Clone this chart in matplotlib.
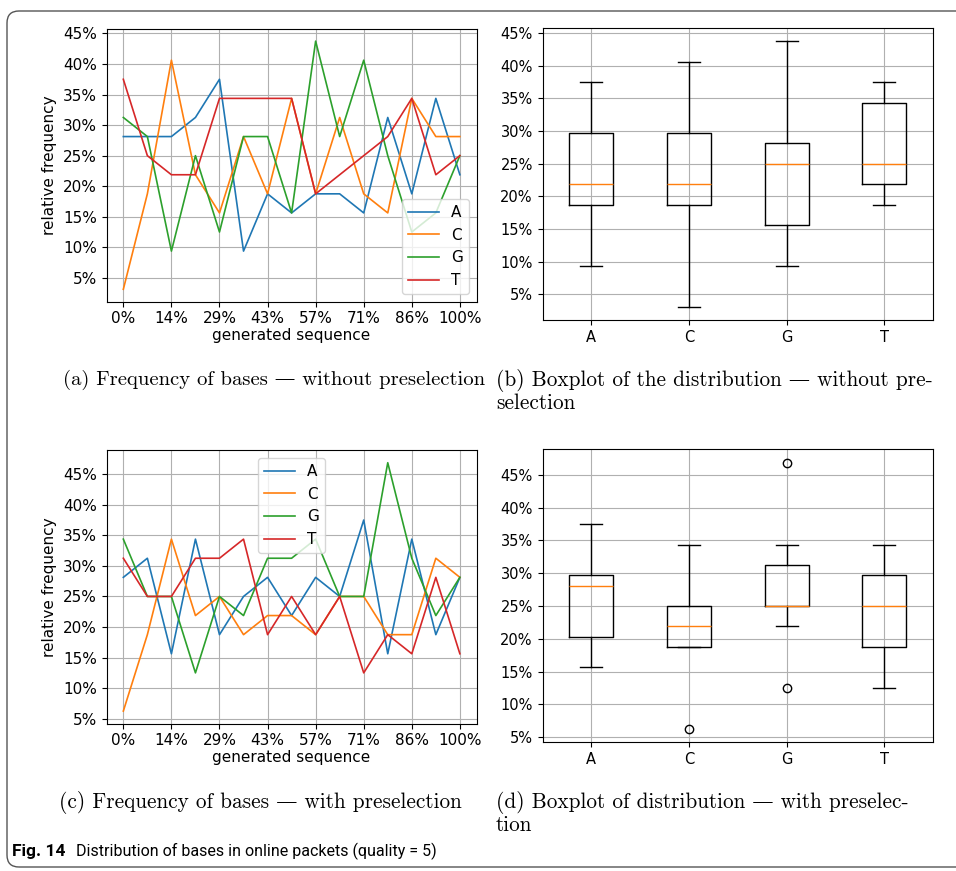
import matplotlib
matplotlib.use("Agg")
import matplotlib.pyplot as plt
from matplotlib.patches import FancyBboxPatch
from matplotlib.transforms import IdentityTransform
from matplotlib.ticker import MultipleLocator, PercentFormatter

# relative frequency of each base (percent) per generated sequence
bases = ["A", "C", "G", "T"]
x_ticklabels = ["0%", "14%", "29%", "43%", "57%", "71%", "86%", "100%"]

# without preselection
A_wo = [28.125, 28.125, 28.125, 31.25, 37.5, 9.375, 18.75, 15.625, 18.75, 18.75, 15.625, 31.25, 18.75, 34.375, 21.875]
C_wo = [3.125, 18.75, 40.625, 21.875, 15.625, 28.125, 18.75, 34.375, 18.75, 31.25, 18.75, 15.625, 34.375, 28.125, 28.125]
G_wo = [31.25, 28.125, 9.375, 25.0, 12.5, 28.125, 28.125, 15.625, 43.75, 28.125, 40.625, 25.0, 12.5, 15.625, 25.0]
T_wo = [37.5, 25.0, 21.875, 21.875, 34.375, 34.375, 34.375, 34.375, 18.75, 21.875, 25.0, 28.125, 34.375, 21.875, 25.0]

# with preselection
A_w = [28.125, 31.25, 15.625, 34.375, 18.75, 25.0, 28.125, 21.875, 28.125, 25.0, 37.5, 15.625, 34.375, 18.75, 28.125]
C_w = [6.25, 18.75, 34.375, 21.875, 25.0, 18.75, 21.875, 21.875, 18.75, 25.0, 25.0, 18.75, 18.75, 31.25, 28.125]
G_w = [34.375, 25.0, 25.0, 12.5, 25.0, 21.875, 31.25, 31.25, 34.375, 25.0, 25.0, 46.875, 31.25, 21.875, 28.125]
T_w = [31.25, 25.0, 25.0, 31.25, 31.25, 34.375, 18.75, 25.0, 18.75, 25.0, 12.5, 18.75, 15.625, 28.125, 15.625]

W, H = 956, 871
fig = plt.figure(figsize=(W / 100, H / 100), dpi=100)


def rect(l, r, t, b):
    return [l / W, (H - b) / H, (r - l) / W, (b - t) / H]


def freq_plot(ax, series, loc):
    for vals, name in zip(series, bases):
        ax.plot(range(len(vals)), vals, lw=1.2, label=name)
    ax.set_xticks(range(0, 15, 2))
    ax.set_xticklabels(x_ticklabels)
    ax.yaxis.set_major_locator(MultipleLocator(5))
    ax.yaxis.set_major_formatter(PercentFormatter(decimals=0))
    ax.tick_params(labelsize=11)
    ax.grid(True)
    ax.set_ylabel("relative frequency", fontsize=11, labelpad=4)
    ax.set_xlabel("generated sequence", fontsize=11, labelpad=1)
    ax.legend(loc=loc, fontsize=11)


def box_plot(ax, series):
    ax.boxplot(series, tick_labels=bases)
    ax.yaxis.set_major_locator(MultipleLocator(5))
    ax.yaxis.set_major_formatter(PercentFormatter(decimals=0))
    ax.tick_params(labelsize=10.5)
    ax.grid(True)


ax1 = fig.add_axes(rect(106.5, 476.7, 28.7, 301.7))
freq_plot(ax1, [A_wo, C_wo, G_wo, T_wo], "lower right")

ax2 = fig.add_axes(rect(542.5, 933.3, 28, 320))
box_plot(ax2, [A_wo, C_wo, G_wo, T_wo])

ax3 = fig.add_axes(rect(106.5, 476.7, 450.3, 723.5))
freq_plot(ax3, [A_w, C_w, G_w, T_w], "upper center")

ax4 = fig.add_axes(rect(542.5, 933.3, 449.3, 742.2))
box_plot(ax4, [A_w, C_w, G_w, T_w])

# sub-captions
serif = ["cmr10", "DejaVu Serif"]
cap = dict(family=serif, fontsize=15.3, va="center")
fig.text(274.5 / W, 1 - 380 / H, "(a) Frequency of bases — without preselection",
         ha="center", family=serif, fontsize=14.9, va="center")
fig.text(496 / W, 1 - 380 / H, "(b) Boxplot of the distribution — without pre-", **cap)
fig.text(496 / W, 1 - 403 / H, "selection", **cap)
fig.text(260 / W, 1 - 802 / H, "(c) Frequency of bases — with preselection", ha="center", **cap)
fig.text(496 / W, 1 - 802 / H, "(d) Boxplot of distribution — with preselec-", **cap)
fig.text(496 / W, 1 - 825 / H, "tion", **cap)

# figure caption
narrow = ["Roboto", "DejaVu Sans"]
fig.text(12 / W, 1 - 851 / H, "Fig. 14", family=narrow, stretch="condensed",
         fontsize=12.5, weight="bold", va="center")
fig.text(76 / W, 1 - 851 / H, "Distribution of bases in online packets (quality = 5)",
         family=narrow, stretch="condensed", fontsize=11.5, va="center")

# outer frame, drawn in pixel units
frame = FancyBboxPatch((7, 4), 1400, H - 15,
                       boxstyle="round,pad=0,rounding_size=12",
                       transform=IdentityTransform(), fill=False,
                       edgecolor="#555555", lw=1.0)
fig.patches.append(frame)

fig.savefig("out.png", dpi=100)
